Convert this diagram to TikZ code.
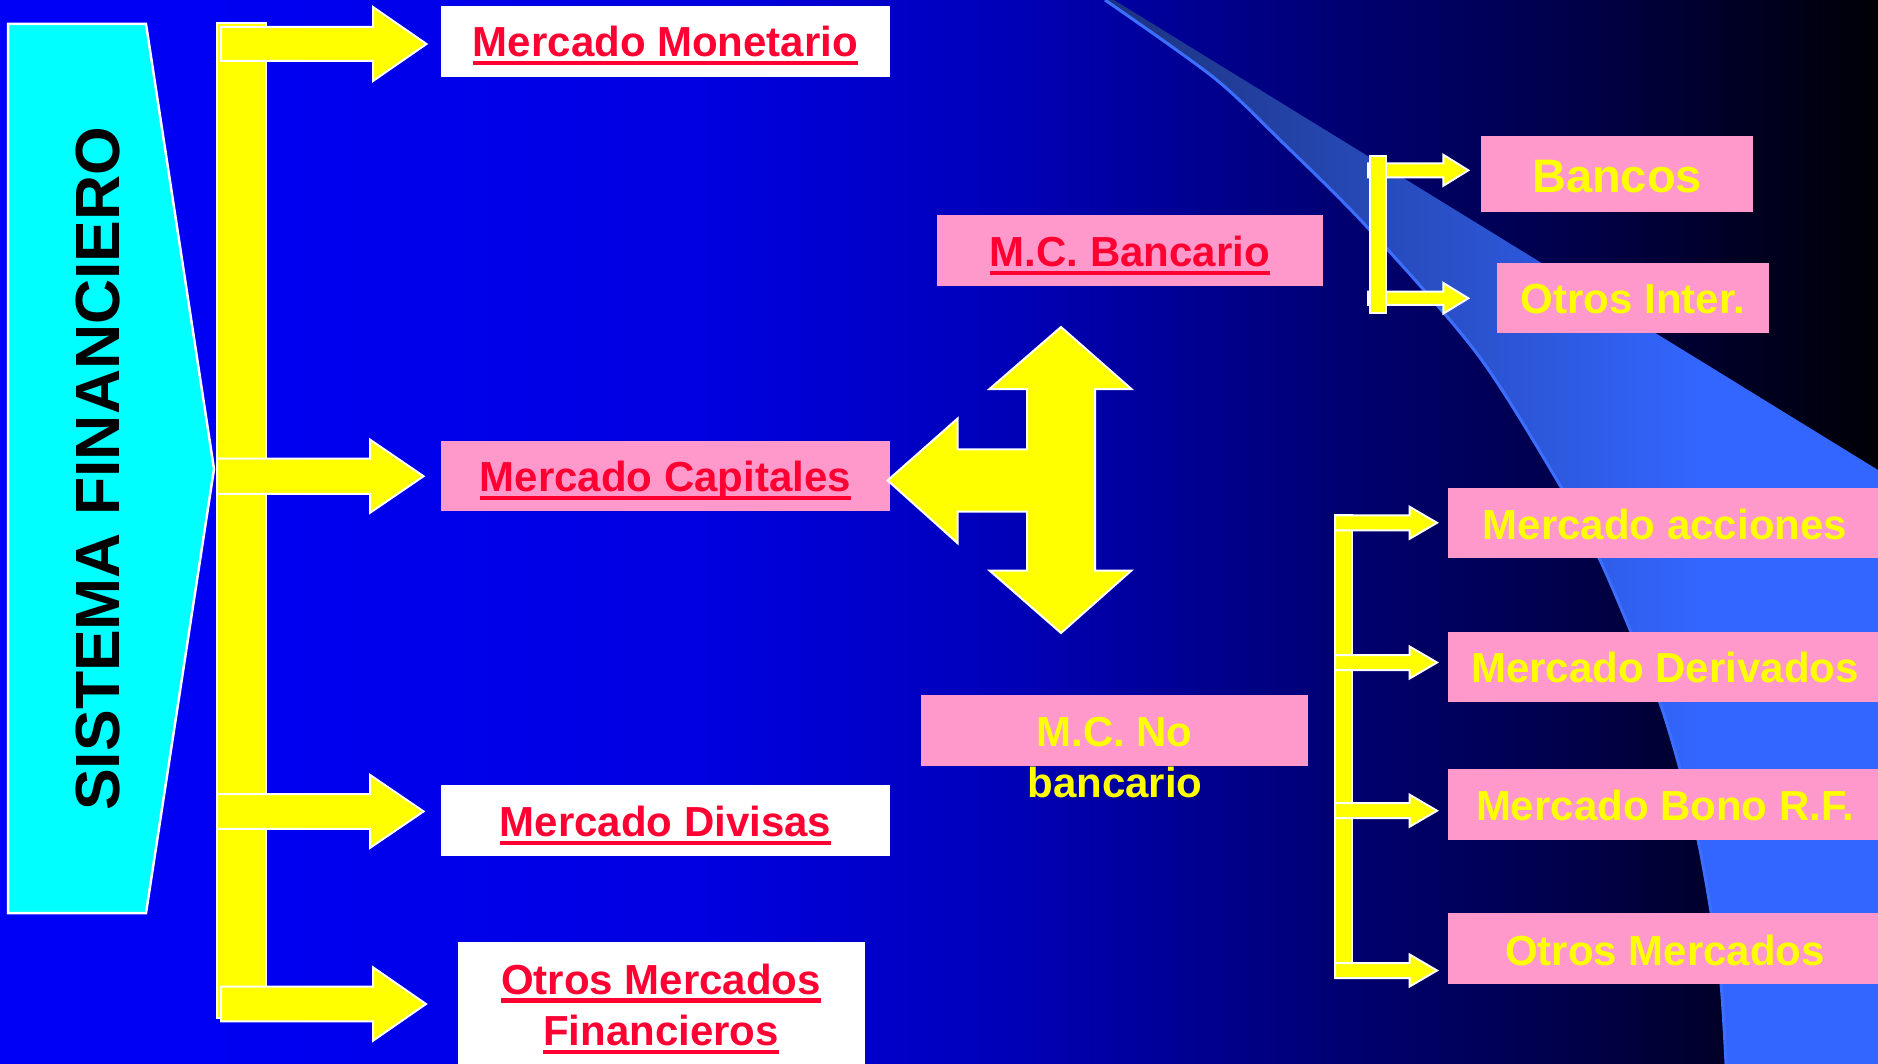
\documentclass[tikz,border=0pt]{standalone}
\usepackage{fontspec}
\setmainfont{Liberation Sans}
\definecolor{pinkc}{RGB}{255,153,204}
\definecolor{redc}{RGB}{255,0,51}
\definecolor{yelc}{RGB}{255,255,0}
\definecolor{cyanc}{RGB}{0,255,255}
\definecolor{bandA}{RGB}{28,50,125}
\definecolor{bandB}{RGB}{51,102,255}
\definecolor{edgec}{RGB}{60,110,255}
\pgfdeclarehorizontalshading{bgsh}{100bp}{rgb(0bp)=(0,0,0.97); rgb(25bp)=(0,0,0.97); rgb(33bp)=(0,0,0.94); rgb(43.6bp)=(0,0,0.88); rgb(51.6bp)=(0,0,0.73); rgb(60.9bp)=(0,0,0.44); rgb(66.5bp)=(0,0,0.3); rgb(75bp)=(0,0,0.02); rgb(100bp)=(0,0,0.02)}
\newsavebox\ulbox
\newcommand\myul[1]{\sbox\ulbox{#1}\rlap{\rule[-8.5pt]{\wd\ulbox}{4.1pt}}\usebox\ulbox}
% block arrow: [style] x0, xtip, yc, shaft half, head half, head length
\newcommand\blockarrow[7][]{\draw[yshape,#1] (#2,{#4-#5}) -- ({#3-#7},{#4-#5}) -- ({#3-#7},{#4-#6}) -- (#3,#4) -- ({#3-#7},{#4+#6}) -- ({#3-#7},{#4+#5}) -- (#2,{#4+#5}) -- cycle;}
\tikzset{
  yshape/.style={fill=yelc, draw=white, line width=2pt, line join=miter},
  pbox/.style={fill=pinkc, inner sep=0pt, text depth=0pt, font=\fontsize{42}{50}\selectfont\bfseries},
  wbox/.style={pbox, fill=white},
  redt/.style={text=redc},
  yelt/.style={text=yelc},
  txt/.style={inner sep=0pt, anchor=base, font=\fontsize{42}{50}\selectfont\bfseries},
}
\begin{document}
\begin{tikzpicture}[x=1pt,y=-1pt]
\useasboundingbox (0,0) rectangle (1878,1064);
% background
\shade[shading=bgsh] (0,0) rectangle (1878,1064);
% light band
\begin{scope}
\clip plot[smooth] coordinates {(1105,0) (1213,77) (1280,140) (1367,227) (1478,355) (1561,487) (1599,558) (1631,632) (1660,703) (1680,769) (1698,840) (1711,912) (1721,984) (1726,1064)} -- (1878,1064) -- (1878,470) -- (1114,0) -- cycle;
\shade[left color=bandA, right color=bandB] (1100,0) rectangle (1700,1064);
\fill[bandB] (1699,0) rectangle (1878,1064);
\end{scope}
\draw[edgec, line width=3pt] plot[smooth] coordinates {(1105,0) (1213,77) (1280,140) (1367,227) (1478,355) (1561,487) (1599,558) (1631,632) (1660,703) (1680,769) (1698,840) (1711,912) (1721,984) (1726,1064)};
% title pentagon
\draw[fill=cyanc, draw=white, line width=2.5pt, line join=miter] (8,24) -- (146,24) -- (214,469) -- (146,913) -- (8,913) -- cycle;
\node[rotate=90, anchor=base, inner sep=0pt, font=\fontsize{62.5}{70}\selectfont\bfseries, text=black] (sf) at (119.4,468.7) {SISTEMA FINANCIERO};
% left bracket
\draw[yshape] (217,23) rectangle (266,1018);
\blockarrow{221}{426.5}{44}{17}{37}{53.5}
\blockarrow{217}{423.6}{476.2}{17.6}{36.6}{53.6}
\blockarrow{217}{423.6}{811.4}{17.4}{36.5}{53.6}
\blockarrow{221}{426}{1004}{17.35}{36.75}{53}
% left boxes
\node[wbox, redt, minimum width=449pt, minimum height=71pt, text height=31pt] (monet) at (665.5,41.5) {\myul{Mercado Monetario}};
\node[pbox, redt, minimum width=449pt, minimum height=70pt, text height=30.8pt] (capit) at (665.5,476) {\myul{Mercado Capitales}};
\node[wbox, redt, minimum width=449pt, minimum height=71pt, text height=31.8pt] (divis) at (665.5,820.5) {\myul{Mercado Divisas}};
\node[wbox, minimum width=407pt, minimum height=122pt] (omf) at (661,1003) {};
\node[txt, text=redc] (omf1) at (661,994) {\myul{Otros Mercados}};
\node[txt, text=redc] (omf2) at (661,1045.7) {\myul{Financieros}};
% middle boxes
\node[pbox, redt, minimum width=386pt, minimum height=71pt, text height=32.8pt] (mcb) at (1130,250.5) {\myul{M.C. Bancario}};
\node[pbox, yelt, minimum width=387pt, minimum height=70.7pt, text height=31.3pt] (mcno) at (1114.5,730.65) {M.C. No};
\node[txt, text=yelc] (mcno2) at (1115,797.3) {bancario};
% big four-way arrow
\draw[yshape] (1061,327) -- (1131.4,389) -- (1095,389) -- (1095,570.5) -- (1131.4,570.5) -- (1061,633) -- (989.5,570.5) -- (1027,570.5) -- (1027,511.7) -- (957.7,511.7) -- (957.7,543.3) -- (887.6,480.4) -- (957.7,418.4) -- (957.7,449.4) -- (1027,449.4) -- (1027,389) -- (989.5,389) -- cycle;
% upper right bracket
\blockarrow{1368}{1468.3}{170.3}{7}{15.5}{25}
\blockarrow{1368}{1468.3}{298.3}{6.7}{15.3}{25}
\draw[yshape] (1370,156) rectangle (1386,313);
\node[pbox, yelt, minimum width=272pt, minimum height=76.5pt, text height=37.1pt, font=\fontsize{47}{55}\selectfont\bfseries] (bancos) at (1617,174.25) {Bancos};
\node[pbox, yelt, minimum width=272pt, minimum height=70pt, text height=31.3pt] (otint) at (1633,298.35) {Otros Inter.};
% lower right bracket
\draw[yshape] (1335,515.4) rectangle (1352,973.5);
\blockarrow{1335}{1437}{522.8}{7.5}{16}{27.4}
\blockarrow{1335}{1437}{662.5}{7.5}{16}{27.4}
\blockarrow{1335}{1437}{810.7}{7.5}{16}{27.4}
\blockarrow{1335}{1437}{970.5}{7.5}{16}{27.4}
\node[pbox, yelt, minimum width=433.2pt, minimum height=70pt, text height=32pt] (acc) at (1665,523.3) {Mercado acciones};
\node[pbox, yelt, minimum width=433.2pt, minimum height=70pt, text height=30.4pt] (der) at (1665,667.3) {Mercado Derivados};
\node[pbox, yelt, minimum width=433.2pt, minimum height=70.7pt, text height=32.7pt] (bono) at (1665,804.35) {Mercado Bono R.F.};
\node[pbox, yelt, minimum width=433.2pt, minimum height=71pt, text height=34.4pt] (otm) at (1665,948.5) {Otros Mercados};
\end{tikzpicture}
\end{document}
